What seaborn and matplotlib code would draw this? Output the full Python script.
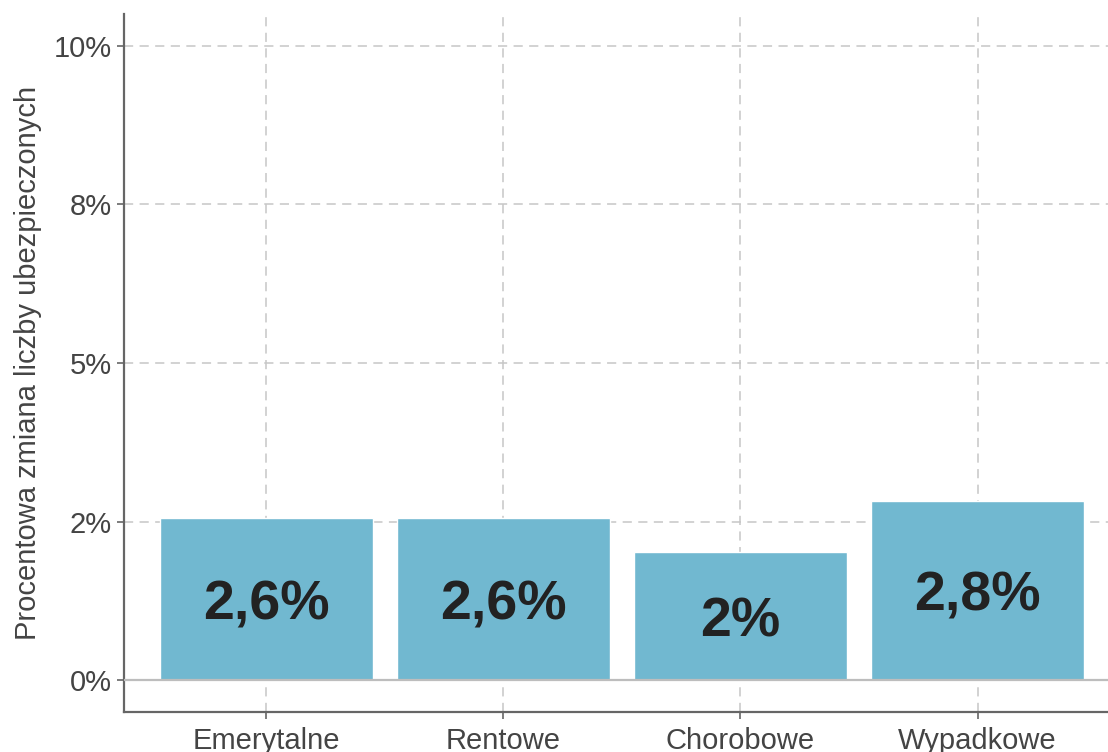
import pandas as pd
import numpy as np
import seaborn as sns
import matplotlib.pyplot as plt

categories = ["Emerytalne", "Rentowe", "Chorobowe", "Wypadkowe"]
values = [2.56, 2.56, 2.02, 2.82]
bar_labels = ["2,6%", "2,6%", "2%", "2,8%"]
y_ticks = [0, 2.5, 5, 7.5, 10]
y_ticklabels = ["0%", "2%", "5%", "8%", "10%"]

df = pd.DataFrame({"typ": categories, "zmiana": values})

sns.set_style("white")
plt.rcParams['font.family'] = ['Liberation Sans', 'DejaVu Sans']

fig = plt.figure(figsize=(11.08, 7.52), dpi=100)
ax = fig.add_axes([124/1108, 40/752, 1 - 124/1108, 698/752])

sns.barplot(data=df, x="typ", y="zmiana", color="#71b8d0", saturation=1,
            width=0.9, ax=ax, zorder=2)
ax.axhline(0, color="#bdbdbd", linewidth=1.6, zorder=3)

# seaborn switches the categorical grid off, so turn it back on after
ax.set_axisbelow(True)
ax.grid(True, axis="both", color="#c6c6c6", linestyle=(0, (6, 4.2)), linewidth=1.1)

for i, (v, lab) in enumerate(zip(values, bar_labels)):
    ax.text(i, v / 2, lab, ha="center", va="center_baseline", fontsize=40,
            fontweight="bold", color="#222222", zorder=4)

ax.set_xlim(-0.6, 3.55)
ax.set_ylim(-0.5, 10.5)
ax.set_yticks(y_ticks)
ax.set_yticklabels(y_ticklabels)
ax.set_xlabel("")
ax.set_ylabel("Procentowa zmiana liczby ubezpieczonych", fontsize=21,
              color="#444444", labelpad=8)
ax.tick_params(axis="both", labelsize=21, colors="#444444", length=5,
               width=1.2, pad=4, direction="out", color="#666666")
ax.tick_params(axis="x", pad=6)
ax.tick_params(axis="both", bottom=True, left=True)

for s in ["top", "right"]:
    ax.spines[s].set_visible(False)
for s in ["left", "bottom"]:
    ax.spines[s].set_color("#666666")
    ax.spines[s].set_linewidth(1.6)

fig.savefig("out.png", dpi=100)
